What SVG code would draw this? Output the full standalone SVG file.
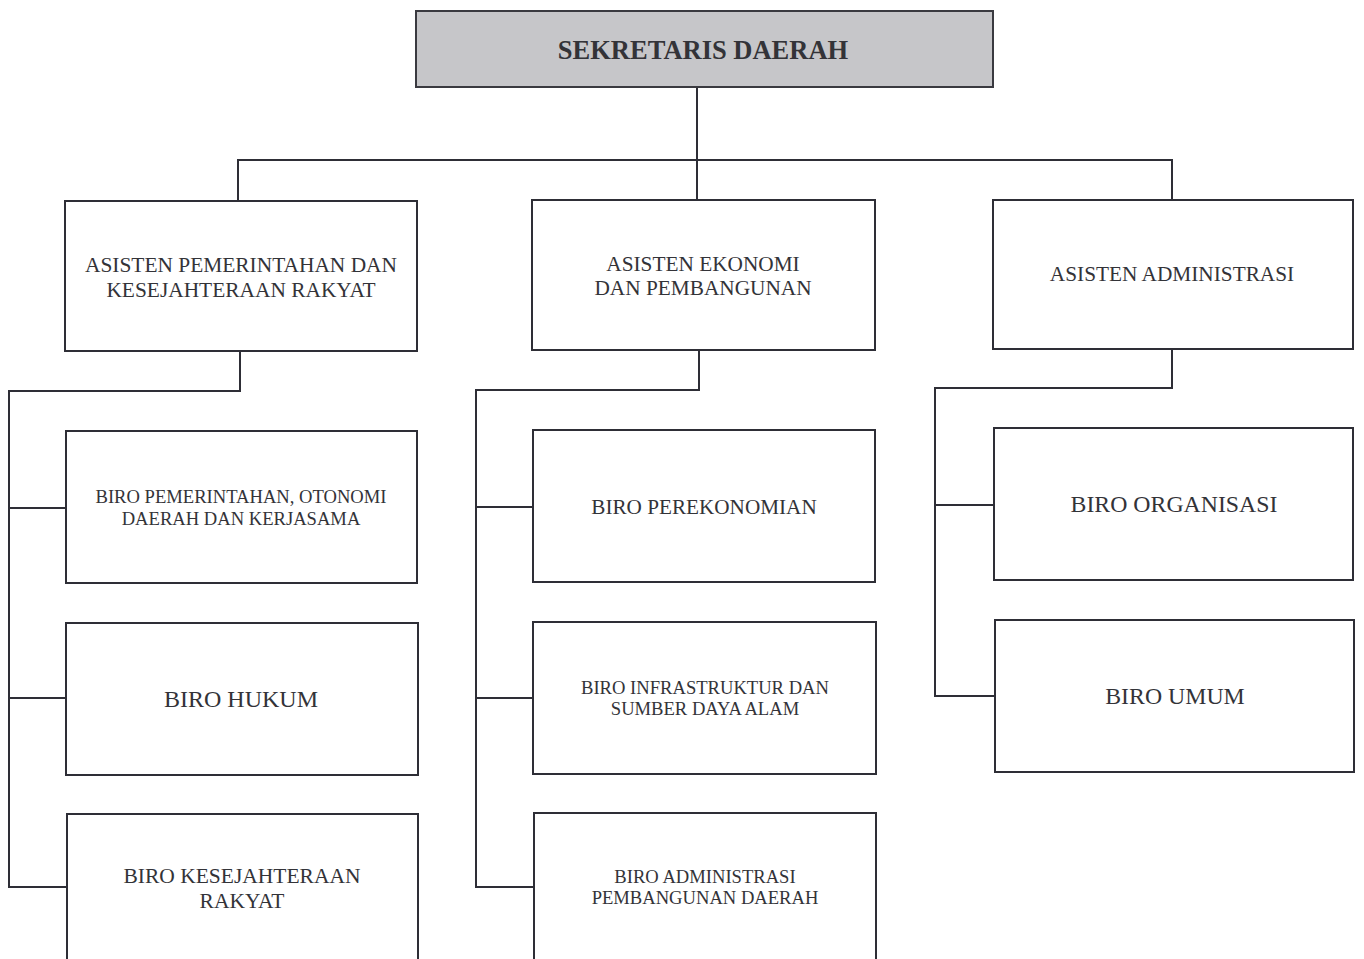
<svg xmlns="http://www.w3.org/2000/svg" width="1364" height="959" viewBox="0 0 1364 959">
<style>
.box{fill:#fff;stroke:#2e2e36;stroke-width:2}
.top{fill:#c6c6c9;stroke:#3a3a40;stroke-width:2}
.t{font-family:"Liberation Serif","Times New Roman",serif;fill:#333338;text-anchor:middle}
.l{fill:none;stroke:#2e2e36;stroke-width:2}
</style>
<rect width="1364" height="959" fill="#fff"/>
<g id="connectors">
<path class="l" d="M697 87V160M238 201V160H1172V200M697 160V200"/>
<path class="l" d="M240 351V391H9V887H67M9 508H66M9 698H67"/>
<path class="l" d="M699 350V390H476V887H534M476 507H533M476 698H533"/>
<path class="l" d="M1172 349V388H935V696H995M935 505H994"/>
</g>
<g id="sekda"><rect class="top" x="416" y="11" width="577" height="76"/><text class="t" x="703" y="59" font-size="26.5" font-weight="bold">SEKRETARIS DAERAH</text></g>
<g id="as1"><rect class="box" x="65" y="201" width="352" height="150"/><text class="t" x="241" y="272" font-size="21.4">ASISTEN PEMERINTAHAN DAN</text><text class="t" x="241" y="297" font-size="21.4">KESEJAHTERAAN RAKYAT</text></g>
<g id="as2"><rect class="box" x="532" y="200" width="343" height="150"/><text class="t" x="703" y="271" font-size="21.3">ASISTEN EKONOMI</text><text class="t" x="703" y="295" font-size="21.3">DAN PEMBANGUNAN</text></g>
<g id="as3"><rect class="box" x="993" y="200" width="360" height="149"/><text class="t" x="1172" y="281" font-size="21.3">ASISTEN ADMINISTRASI</text></g>
<g id="b1"><rect class="box" x="66" y="431" width="351" height="152"/><text class="t" x="241" y="503" font-size="18.6">BIRO PEMERINTAHAN, OTONOMI</text><text class="t" x="241" y="525" font-size="18.6">DAERAH DAN KERJASAMA</text></g>
<g id="b2"><rect class="box" x="66" y="623" width="352" height="152"/><text class="t" x="241" y="707" font-size="24">BIRO HUKUM</text></g>
<g id="b3"><rect class="box" x="67" y="814" width="351" height="160"/><text class="t" x="242" y="883" font-size="21.5">BIRO KESEJAHTERAAN</text><text class="t" x="242" y="908" font-size="21.5">RAKYAT</text></g>
<g id="b4"><rect class="box" x="533" y="430" width="342" height="152"/><text class="t" x="704" y="514" font-size="21.2">BIRO PEREKONOMIAN</text></g>
<g id="b5"><rect class="box" x="533" y="622" width="343" height="152"/><text class="t" x="705" y="694" font-size="18.6">BIRO INFRASTRUKTUR DAN</text><text class="t" x="705" y="715" font-size="18.6">SUMBER DAYA ALAM</text></g>
<g id="b6"><rect class="box" x="534" y="813" width="342" height="160"/><text class="t" x="705" y="883" font-size="18.6">BIRO ADMINISTRASI</text><text class="t" x="705" y="904" font-size="18.6">PEMBANGUNAN DAERAH</text></g>
<g id="b7"><rect class="box" x="994" y="428" width="359" height="152"/><text class="t" x="1174" y="512" font-size="23.8">BIRO ORGANISASI</text></g>
<g id="b8"><rect class="box" x="995" y="620" width="359" height="152"/><text class="t" x="1175" y="704" font-size="23.8">BIRO UMUM</text></g>
</svg>
